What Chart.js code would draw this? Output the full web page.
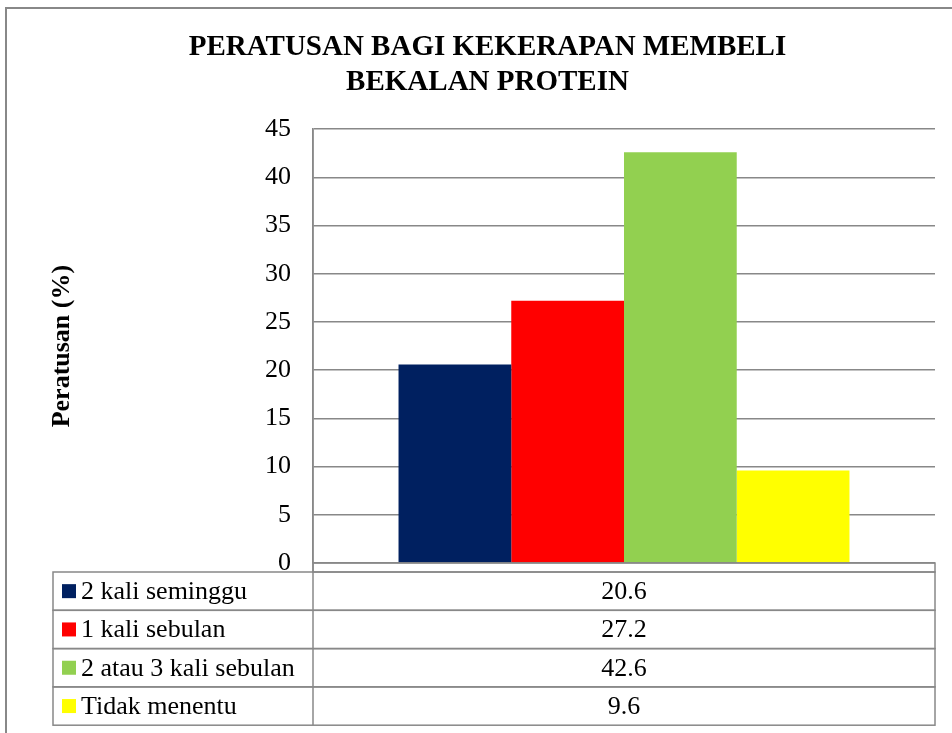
<!DOCTYPE html>
<html>
<head>
<meta charset="utf-8">
<script src="https://cdn.jsdelivr.net/npm/chart.js@4"></script>
<style>
  body { margin: 0; background: #fff; }
  #wrap { width: 952px; height: 733px; position: relative; }
</style>
</head>
<body>
<div id="wrap"><canvas id="myChart"></canvas></div>
<script>
const categories = [''];
const seriesNames = ['2 kali seminggu', '1 kali sebulan', '2 atau 3 kali sebulan', 'Tidak menentu'];
const seriesValues = [20.6, 27.2, 42.6, 9.6];
const seriesColors = ['#002060', '#FF0000', '#92D050', '#FFFF00'];
const yTicks = [0, 5, 10, 15, 20, 25, 30, 35, 40, 45];

const serif = '"Liberation Serif", "Times New Roman", serif';
const lineGray = '#888888';

// frame + data table under the plot, like Excel's data table
const tablePlugin = {
    id: 'dataTable',
    beforeDraw(chart) {
        const ctx = chart.ctx;
        ctx.save();
        ctx.fillStyle = '#fff';
        ctx.fillRect(0, 0, chart.width, chart.height);
        ctx.strokeStyle = lineGray;
        ctx.lineWidth = 2;
        ctx.strokeRect(6, 8, 1200, 1200);
        ctx.restore();
    },
    afterDraw(chart) {
        const ctx = chart.ctx;
        const area = chart.chartArea;
        const left = 53;
        const mid = area.left;
        const right = area.right;
        const top = area.bottom + 9;
        const rowH = 38.3;
        ctx.save();
        ctx.strokeStyle = lineGray;
        ctx.lineWidth = 1.5;
        // category row (empty)
        ctx.strokeRect(mid, area.bottom, right - mid, top - area.bottom);
        ctx.beginPath();
        ctx.moveTo(mid, area.top);
        ctx.lineTo(mid, top + rowH * seriesNames.length);
        ctx.stroke();
        seriesNames.forEach((name, i) => {
            const y = top + rowH * i;
            ctx.strokeStyle = lineGray;
            ctx.strokeRect(left, y, right - left, rowH);
            const cy = y + rowH / 2;
            ctx.fillStyle = seriesColors[i];
            ctx.fillRect(left + 9, cy - 7, 14, 14);
            ctx.fillStyle = '#000';
            ctx.font = '26px ' + serif;
            ctx.textBaseline = 'middle';
            ctx.textAlign = 'left';
            ctx.fillText(name, left + 28, cy + 1);
            ctx.textAlign = 'center';
            ctx.fillText(String(seriesValues[i]), (mid + right) / 2, cy + 1);
        });
        ctx.restore();
    }
};

const data = {
    labels: categories,
    datasets: seriesNames.map((name, i) => ({
        label: name,
        data: [seriesValues[i]],
        backgroundColor: seriesColors[i],
        borderWidth: 0,
        categoryPercentage: 0.725,
        barPercentage: 1
    }))
};

const config = {
    type: 'bar',
    data: data,
    options: {
        responsive: true,
        maintainAspectRatio: false,
        animation: false,
        layout: {
            padding: { left: 40, right: 17, top: 0, bottom: 170 }
        },
        plugins: {
            legend: { display: false },
            tooltip: { enabled: false },
            title: {
                display: true,
                text: ['PERATUSAN BAGI KEKERAPAN MEMBELI', 'BEKALAN PROTEIN'],
                color: '#000',
                font: { family: serif, size: 29, weight: 'bold', lineHeight: 1.21 },
                padding: { top: 30, bottom: 29 }
            }
        },
        scales: {
            x: {
                display: false
            },
            y: {
                min: 0,
                max: 45,
                afterFit(scale) { scale.width = 273; },
                afterBuildTicks(scale) { scale.ticks = yTicks.map(v => ({ value: v })); },
                ticks: {
                    color: '#000',
                    padding: 22,
                    font: { family: serif, size: 26 }
                },
                grid: {
                    color: lineGray,
                    lineWidth: 1.5,
                    drawTicks: false
                },
                border: { color: lineGray, width: 1.5 },
                title: {
                    display: true,
                    text: 'Peratusan (%)',
                    color: '#000',
                    font: { family: serif, size: 26, weight: 'bold' },
                    padding: { top: 7, bottom: 4 }
                }
            }
        }
    },
    plugins: [tablePlugin]
};

var myChart = new Chart(
    document.getElementById('myChart'),
    config
);
</script>
</body>
</html>
